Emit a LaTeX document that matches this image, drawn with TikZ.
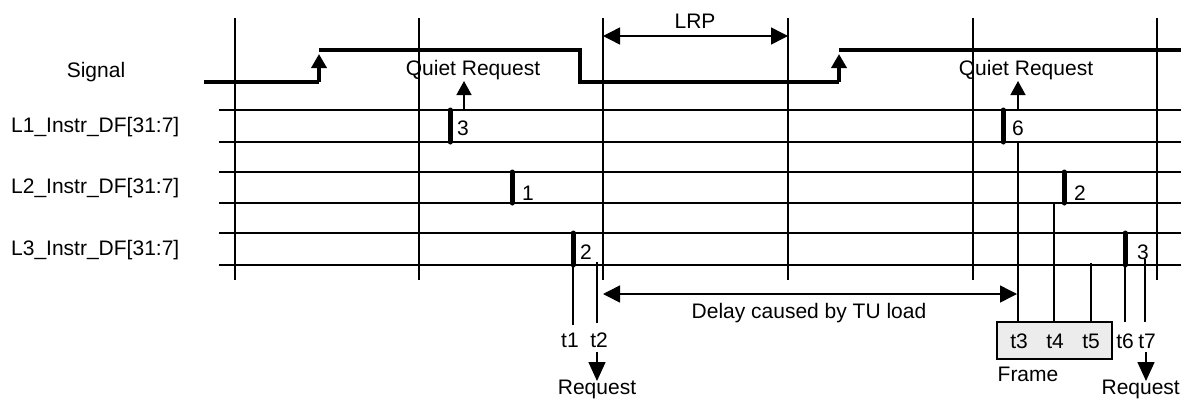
\documentclass[tikz,border=0pt]{standalone}
\usepackage{fontspec}
\setmainfont{Liberation Sans}
\usetikzlibrary{arrows.meta}

\begin{document}
\begin{tikzpicture}[x=1pt,y=-1pt,
  gridline/.style={line width=1.4pt},
  sig/.style={line width=4pt},
  bar/.style={line width=5pt,line cap=round},
  tline/.style={line width=1.3pt},
  lbl/.style={font=\fontsize{21}{25}\selectfont,inner sep=0pt},
  uparrow/.style={line width=1.5pt,-{Triangle[width=15pt,length=14pt]}},
  riser/.style={line width=4pt,-{Triangle[width=15pt,length=14pt]}},
  dimarrow/.style={line width=1.5pt,{Triangle[width=17pt,length=17pt]}-{Triangle[width=17pt,length=17pt]}},
  downarrow/.style={line width=1.5pt,-{Triangle[width=17pt,length=19pt]}}]
\useasboundingbox (0,0) rectangle (1181,400);

% grid
\foreach \gx in {235,419,603,788,973,1157}
  \draw[gridline] (\gx,18) -- (\gx,280);
\foreach \gy in {110,142,172,203,233,265}
  \draw[gridline] (219,\gy) -- (1181,\gy);

% row labels
\node[lbl] (signame) at (96,72) {Signal};
\node[lbl,anchor=west] (l1name) at (11,127) {L1\_Instr\_DF[31:7]};
\node[lbl,anchor=west] (l2name) at (11,188) {L2\_Instr\_DF[31:7]};
\node[lbl,anchor=west] (l3name) at (11,250) {L3\_Instr\_DF[31:7]};

% signal
\draw[sig] (204,82) -- (319,82);
\draw[riser] (319,82) -- (319,54);
\draw[sig] (319,50) -- (580,50) -- (580,82) -- (839,82);
\draw[riser] (839,82) -- (839,54);
\draw[sig] (839,50) -- (1181,50);

% LRP
\coordinate (lrpl) at (603,36);
\coordinate (lrpr) at (788,36);
\draw[dimarrow] (lrpl) -- (lrpr);
\node[lbl] (lrp) at (695,21) {LRP};

% quiet requests
\node[lbl] (qr1) at (473,70) {Quiet Request};
\node[lbl] (qr2) at (1026,70) {Quiet Request};
\draw[uparrow] (464,110) -- (464,81);
\draw[uparrow] (1018,110) -- (1018,81);

% bars and counts
\draw[bar] (450,110) -- (450,142);
\node[lbl] (c3a) at (463,128) {3};
\draw[bar] (512,172) -- (512,203);
\node[lbl] (c1) at (528,193) {1};
\draw[bar] (573,233) -- (573,265);
\node[lbl] (c2a) at (586,252) {2};
\draw[bar] (1003,110) -- (1003,142);
\node[lbl] (c6) at (1018,128) {6};
\draw[bar] (1064,172) -- (1064,203);
\node[lbl] (c2b) at (1080,193) {2};
\draw[bar] (1125,233) -- (1125,265);
\node[lbl] (c3b) at (1143,252) {3};

% frame
\draw[fill=gray!15,line width=1.3pt] (997,322) rectangle (1112,359);
\node[lbl] (frame) at (1028,374) {Frame};

% time marks
\draw[tline] (573,265) -- (573,325);
\draw[tline] (597,262) -- (597,323);
\draw[tline] (1018,142) -- (1018,322);
\draw[tline] (1054,203) -- (1054,322);
\draw[tline] (1091,263) -- (1091,322);
\draw[tline] (1125,265) -- (1125,322);
\draw[tline] (1145,259) -- (1145,322);
\node[lbl] (t1) at (570,340) {t1};
\node[lbl] (t2) at (599,340) {t2};
\node[lbl] (t3) at (1019,341) {t3};
\node[lbl] (t4) at (1055,341) {t4};
\node[lbl] (t5) at (1091,341) {t5};
\node[lbl] (t6) at (1125,341) {t6};
\node[lbl] (t7) at (1147,341) {t7};

% requests
\node[lbl] (req1) at (597,389) {Request};
\node[lbl,anchor=east] (req2) at (1180,389) {Request};
\draw[downarrow] (597,352) -- (597,381);
\draw[downarrow] (1146,352) -- (1146,381);

% delay
\coordinate (dl) at (603,294);
\coordinate (dr) at (1017,294);
\draw[dimarrow] (dl) -- (dr);
\node[lbl] (delay) at (809,313) {Delay caused by TU load};
\end{tikzpicture}
\end{document}
